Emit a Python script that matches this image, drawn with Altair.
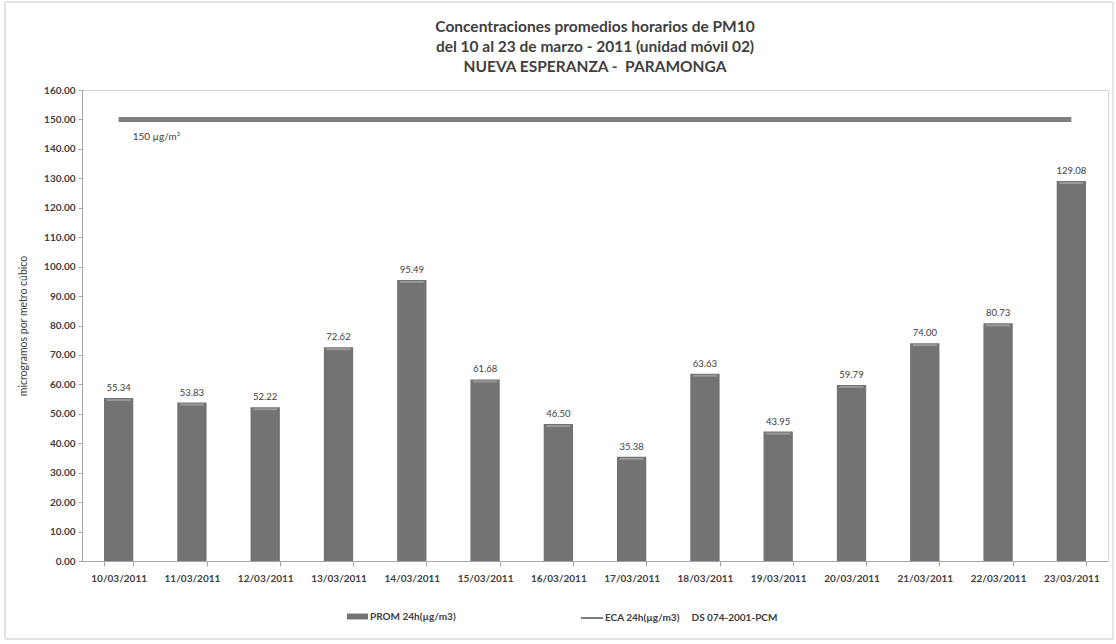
import altair as alt
import pandas as pd

# Fechas de muestreo (eje X)
fechas = [
    "10/03/2011", "11/03/2011", "12/03/2011", "13/03/2011", "14/03/2011",
    "15/03/2011", "16/03/2011", "17/03/2011", "18/03/2011", "19/03/2011",
    "20/03/2011", "21/03/2011", "22/03/2011", "23/03/2011",
]

# Promedio de 24 h de PM10 (µg/m3)
prom_24h = [55.34, 53.83, 52.22, 72.62, 95.49, 61.68, 46.50,
            35.38, 63.63, 43.95, 59.79, 74.00, 80.73, 129.08]

# Estándar ECA de 24 h (µg/m3)
eca_24h = [150, 150, 150, 150, 150, 150, 150,
           150, 150, 150, 150, 150, 150, 150]

serie_prom = "PROM 24h(µg/m3)"
serie_eca = "ECA 24h(µg/m3)\u00a0\u00a0\u00a0\u00a0\u00a0DS 074-2001-PCM"

df = pd.DataFrame({"fecha": fechas, "prom": prom_24h, "eca": eca_24h})
df["serie_prom"] = serie_prom
df["serie_eca"] = serie_eca
df["etiqueta"] = [f"{v:.2f}" for v in prom_24h]

FONT = "Lato"
TXT = "#404040"
BAR = "#737373"
LINE = "#7f7f7f"

W, H = 1026, 471

y_scale = alt.Scale(domain=[0, 160], nice=False)
x_scale = alt.Scale(paddingInner=0.6, paddingOuter=0.3)

eje_x = alt.Axis(
    title=None, labelAngle=0, labelFont=FONT, labelFontWeight="bold",
    labelFontSize=10, labelColor=TXT, domainColor="#a6a6a6",
    tickColor="#a6a6a6", tickSize=5, tickBand="extent", labelPadding=7,
    labelOverlap=False,
)
eje_y = alt.Axis(
    title="microgramos por metro cúbico",
    values=list(range(0, 161, 10)), format=".2f",
    labelFont=FONT, labelFontWeight="bold", labelFontSize=10,
    labelColor=TXT, grid=False, domainColor="#a6a6a6",
    tickColor="#a6a6a6", tickSize=4, labelPadding=3,
    labelOverlap=False,
    titleFont=FONT, titleFontWeight="normal", titleFontSize=10.5,
    titleColor=TXT, titleX=-59, titleY=H / 2, titleAngle=270,
    titleBaseline="middle", titleAlign="center",
)


# Todas las capas usan la misma definición de ejes para que se fusionen
def x_enc():
    return alt.X("fecha:N", sort=fechas, scale=x_scale, axis=eje_x)


def y_enc(campo):
    return alt.Y(f"{campo}:Q", scale=y_scale, axis=eje_y)


base = alt.Chart(df)

bars = base.mark_bar().encode(
    x=x_enc(),
    y=y_enc("prom"),
    fill=alt.Fill(
        "serie_prom:N",
        scale=alt.Scale(domain=[serie_prom], range=[BAR]),
        legend=alt.Legend(
            title=None, orient="none", legendX=265, legendY=516,
            symbolType="M-1,-0.28H1V0.28H-1Z", symbolSize=441,
            symbolStrokeWidth=0, labelFont=FONT, labelFontWeight="bold",
            labelFontSize=10, labelColor=TXT, labelOffset=2, padding=0,
            labelLimit=400,
        ),
    ),
)

# Borde claro en la parte superior de cada barra
caps = base.mark_tick(color="#a9a9a9", thickness=2, size=24, yOffset=2).encode(
    x=x_enc(), y=y_enc("prom")
)

valores = base.mark_text(
    font=FONT, fontSize=9.5, color=TXT, baseline="bottom", dy=-5
).encode(x=x_enc(), y=y_enc("prom"), text="etiqueta:N")

linea = base.mark_line(strokeWidth=5).encode(
    x=x_enc(),
    y=y_enc("eca"),
    stroke=alt.Stroke(
        "serie_eca:N",
        scale=alt.Scale(domain=[serie_eca], range=[LINE]),
        legend=alt.Legend(
            title=None, orient="none", legendX=498, legendY=516,
            symbolType="stroke", symbolSize=484, symbolStrokeWidth=2,
            labelFont=FONT, labelFontWeight="bold", labelFontSize=10,
            labelColor=TXT, labelOffset=1, padding=0, labelLimit=400,
        ),
    ),
)

limite_txt = alt.Chart(df.iloc[[0]]).mark_text(
    font=FONT, fontSize=10, color=TXT, align="left", baseline="middle",
    dx=14, dy=18,
).encode(x=x_enc(), y=y_enc("eca"), text=alt.value("150 µg/m³"))

# Marco exterior del gráfico
marco = alt.Chart(pd.DataFrame({"k": [0]})).mark_rect(
    fill=None, stroke="#c8c8c8", strokeWidth=1
).encode(
    x=alt.value(-77), x2=alt.value(W + 5), y=alt.value(-88), y2=alt.value(H + 78)
)

chart = (
    alt.layer(bars, marco, caps, linea, valores, limite_txt)
    .properties(
        width=W,
        height=H,
        autosize=alt.AutoSizeParams(type="none"),
        padding={"left": 82, "top": 90, "right": 8, "bottom": 83},
        background="white",
        title=alt.Title(
            text=[
                "Concentraciones promedios horarios de PM10",
                "del 10 al 23 de marzo - 2011 (unidad móvil 02)",
                "NUEVA ESPERANZA -\u00a0\u00a0PARAMONGA",
            ],
            font=FONT, fontSize=15.5, fontWeight="bold", color=TXT,
            anchor="middle", lineHeight=20, offset=-74, frame="group",
        ),
    )
    .configure_view(stroke="#d6d6d6")
)

chart.save("out.html", embed_options={"renderer": "svg", "actions": False})
